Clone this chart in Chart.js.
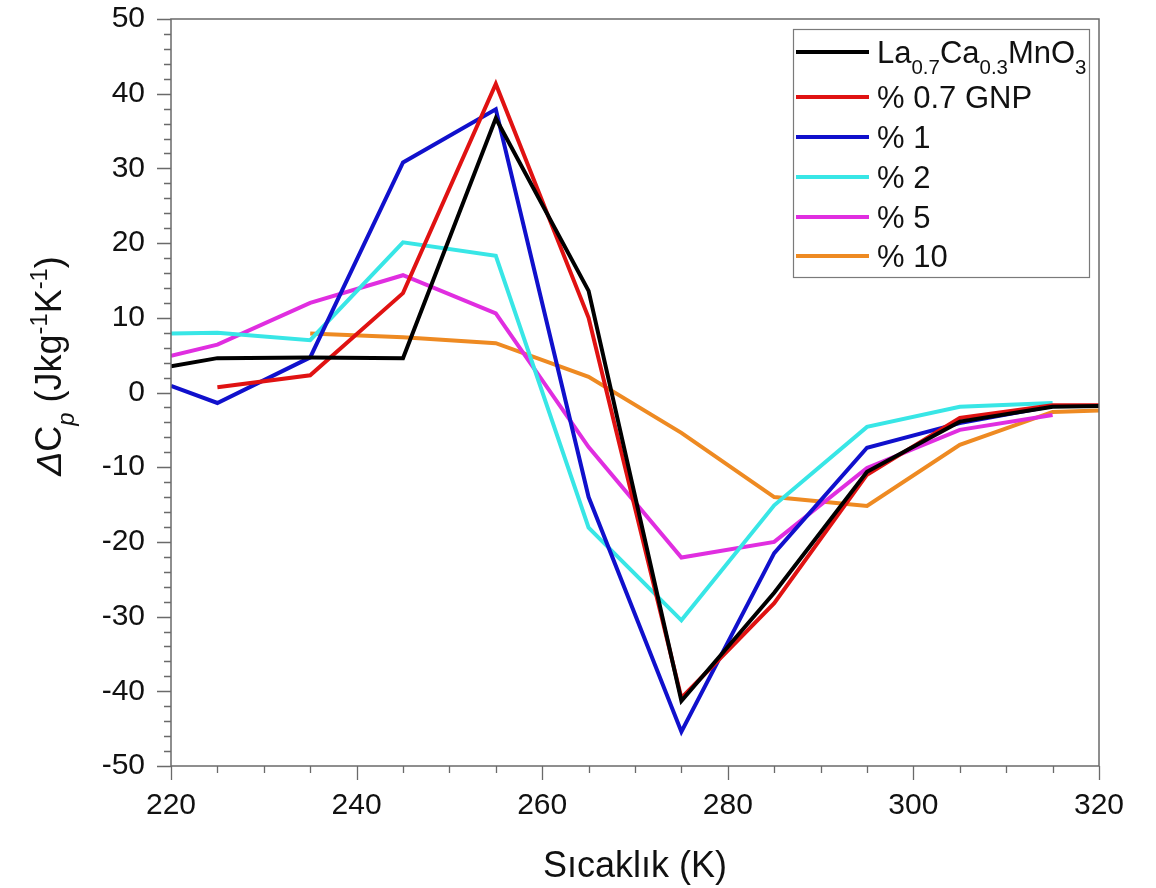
<!DOCTYPE html>
<html lang="tr">
<head>
<meta charset="UTF-8">
<title>Delta Cp</title>
<style>
  body { margin: 0; background: #fff; }
  #wrap { width: 1156px; height: 888px; position: relative; }
</style>
</head>
<body>
<div id="wrap"><canvas id="cpChart"></canvas></div>
<script src="https://cdn.jsdelivr.net/npm/chart.js@4.4.1/dist/chart.umd.min.js"></script>
<script>
  // temperatures (K) where measurements were taken
  const temps = [220, 225, 235, 245, 255, 265, 275, 285, 295, 305, 315, 320];

  // delta Cp values (null = no point)
  const lcmo   = [3.5, 4.6, 4.7, 4.6, 36.7, 13.6, -41.3, -26.8, -10.6, -3.9, -1.9, -1.8];
  const gnp07  = [null, 0.7, 2.3, 13.3, 41.3, 10.0, -40.9, -28.2, -11.0, -3.4, -1.7, -1.7];
  const gnp1   = [0.9, -1.4, 4.7, 30.8, 37.9, -14.0, -45.4, -21.5, -7.4, -4.1, -1.8, null];
  const gnp2   = [7.9, 8.0, 7.0, 20.1, 18.3, -18.1, -30.5, -15.1, -4.6, -1.9, -1.4, null];
  const gnp5   = [4.9, 6.4, 12.0, 15.7, 10.6, -7.3, -22.1, -20.0, -10.1, -5.0, -3.0, null];
  const gnp10  = [null, null, 7.9, 7.4, 6.6, 2.1, -5.4, -14.0, -15.2, -7.0, -2.6, -2.4];

  // legend labels, _{..} = subscript
  const seriesLabels = ['La_{0.7}Ca_{0.3}MnO_{3}', '% 0.7 GNP', '% 1', '% 2', '% 5', '% 10'];
  const seriesColors = ['#000000', '#e01212', '#1010cc', '#38e6e6', '#e02ee0', '#ee8a22'];

  const xTicks = [220, 240, 260, 280, 300, 320];
  const yTicks = [-50, -40, -30, -20, -10, 0, 10, 20, 30, 40, 50];
  const xTitle = 'Sıcaklık (K)';
  const yTitle = '/\u0394/C_{/p/} (Jkg^{-1}K^{-1})'; // "/" toggles italic

  const FONT = '"Liberation Sans", Arial, sans-serif';
  const AXIS_COLOR = '#6a6a6a';

  function toPoints(vals) {
    const pts = [];
    temps.forEach((t, i) => { if (vals[i] !== null) pts.push({ x: t, y: vals[i] }); });
    return pts;
  }

  // split "a_{b}c^{d}" into segments
  function parseRich(str) {
    const segs = [];
    const re = /(_\{[^}]*\}|\^\{[^}]*\})/;
    str.split(re).forEach(p => {
      if (!p) return;
      if (p.startsWith('_{')) segs.push({ t: p.slice(2, -1), mode: 'sub' });
      else if (p.startsWith('^{')) segs.push({ t: p.slice(2, -1), mode: 'sup' });
      else segs.push({ t: p, mode: '' });
    });
    // italic toggles with "/"
    const out = [];
    let italic = false;
    segs.forEach(s => {
      s.t.split(/(\/)/).forEach(piece => {
        if (piece === '/') { italic = !italic; return; }
        if (piece) out.push({ t: piece, mode: s.mode, it: italic });
      });
    });
    return out;
  }

  function richWidth(ctx, segs, size) {
    let w = 0;
    segs.forEach(s => {
      const fs = s.mode ? size * 0.66 : size;
      ctx.font = (s.it ? 'italic ' : '') + fs + 'px ' + FONT;
      w += ctx.measureText(s.t).width;
    });
    return w;
  }

  function drawRich(ctx, segs, x, y, size) {
    let cx = x;
    ctx.textBaseline = 'alphabetic';
    ctx.textAlign = 'left';
    segs.forEach(s => {
      const fs = s.mode ? size * 0.66 : size;
      ctx.font = (s.it ? 'italic ' : '') + fs + 'px ' + FONT;
      let dy = 0;
      if (s.mode === 'sub') dy = size * 0.36;
      if (s.mode === 'sup') dy = -size * 0.4;
      ctx.fillText(s.t, cx, y + dy);
      cx += ctx.measureText(s.t).width;
    });
    return cx - x;
  }

  const framePlugin = {
    id: 'frame',
    afterDraw(chart) {
      const { ctx, chartArea: a, scales } = chart;
      ctx.save();
      ctx.strokeStyle = AXIS_COLOR;
      ctx.lineWidth = 1.5;
      ctx.strokeRect(a.left, a.top, a.right - a.left, a.bottom - a.top);

      // ticks (major + minor), drawn from the scales
      ctx.lineWidth = 1.3;
      ctx.beginPath();
      for (let v = 220; v <= 320; v += 5) {
        const px = Math.round(scales.x.getPixelForValue(v)) + 0.5;
        const len = v % 20 === 0 ? 14 : 7;
        ctx.moveTo(px, a.bottom);
        ctx.lineTo(px, a.bottom + len);
      }
      for (let v = -50; v <= 50; v += 2) {
        const py = Math.round(scales.y.getPixelForValue(v)) + 0.5;
        const len = v % 10 === 0 ? 14 : 7;
        ctx.moveTo(a.left, py);
        ctx.lineTo(a.left - len, py);
      }
      ctx.stroke();

      // x title
      ctx.fillStyle = '#111';
      ctx.font = '36px ' + FONT;
      ctx.textAlign = 'center';
      ctx.textBaseline = 'alphabetic';
      ctx.fillText(xTitle, (a.left + a.right) / 2, 877);

      // y title (rotated)
      const ySegs = parseRich(yTitle);
      const yw = richWidth(ctx, ySegs, 36);
      ctx.save();
      ctx.translate(61, 366);
      ctx.rotate(-Math.PI / 2);
      drawRich(ctx, ySegs, -yw / 2, 0, 36);
      ctx.restore();

      // legend
      const lx = 793, ly = 29, lw = 296, lh = 248;
      ctx.fillStyle = '#fff';
      ctx.fillRect(lx, ly, lw, lh);
      ctx.strokeStyle = '#7a7a7a';
      ctx.lineWidth = 1.2;
      ctx.strokeRect(lx + 0.5, ly + 0.5, lw, lh);
      const rowY = [52, 97, 137, 177, 217, 256];
      chart.data.datasets.forEach((ds, i) => {
        const y = rowY[i];
        ctx.strokeStyle = ds.borderColor;
        ctx.lineWidth = 4;
        ctx.beginPath();
        ctx.moveTo(796, y);
        ctx.lineTo(869, y);
        ctx.stroke();
        ctx.fillStyle = '#111';
        drawRich(ctx, parseRich(seriesLabels[i]), 877, y + 11, 31);
      });
      ctx.restore();
    }
  };

  const seriesValues = [lcmo, gnp07, gnp1, gnp2, gnp5, gnp10];

  new Chart(document.getElementById('cpChart'), {
    type: 'line',
    data: {
      datasets: seriesValues.map((vals, i) => ({
        label: seriesLabels[i],
        data: toPoints(vals),
        borderColor: seriesColors[i],
        borderWidth: 4,
        pointRadius: 0,
        tension: 0,
        fill: false,
        order: i
      }))
    },
    options: {
      responsive: true,
      maintainAspectRatio: false,
      animation: false,
      layout: { padding: { left: 0, top: 19, right: 57, bottom: 0 } },
      plugins: { legend: { display: false }, tooltip: { enabled: false } },
      scales: {
        x: {
          type: 'linear',
          min: 220, max: 320,
          afterFit(s) { s.height = 122; s.paddingLeft = 0; s.paddingRight = 0; },
          afterBuildTicks(s) { s.ticks = xTicks.map(v => ({ value: v })); },
          grid: { display: false, drawTicks: false },
          border: { display: false },
          ticks: { color: '#111', padding: 22, font: { family: FONT, size: 30 } }
        },
        y: {
          min: -50, max: 50,
          afterFit(s) { s.width = 171; s.paddingTop = 0; s.paddingBottom = 0; },
          afterBuildTicks(s) { s.ticks = yTicks.map(v => ({ value: v })); },
          grid: { display: false, drawTicks: false },
          border: { display: false },
          ticks: { color: '#111', padding: 26, font: { family: FONT, size: 30 } }
        }
      }
    },
    plugins: [framePlugin]
  });
</script>
</body>
</html>
